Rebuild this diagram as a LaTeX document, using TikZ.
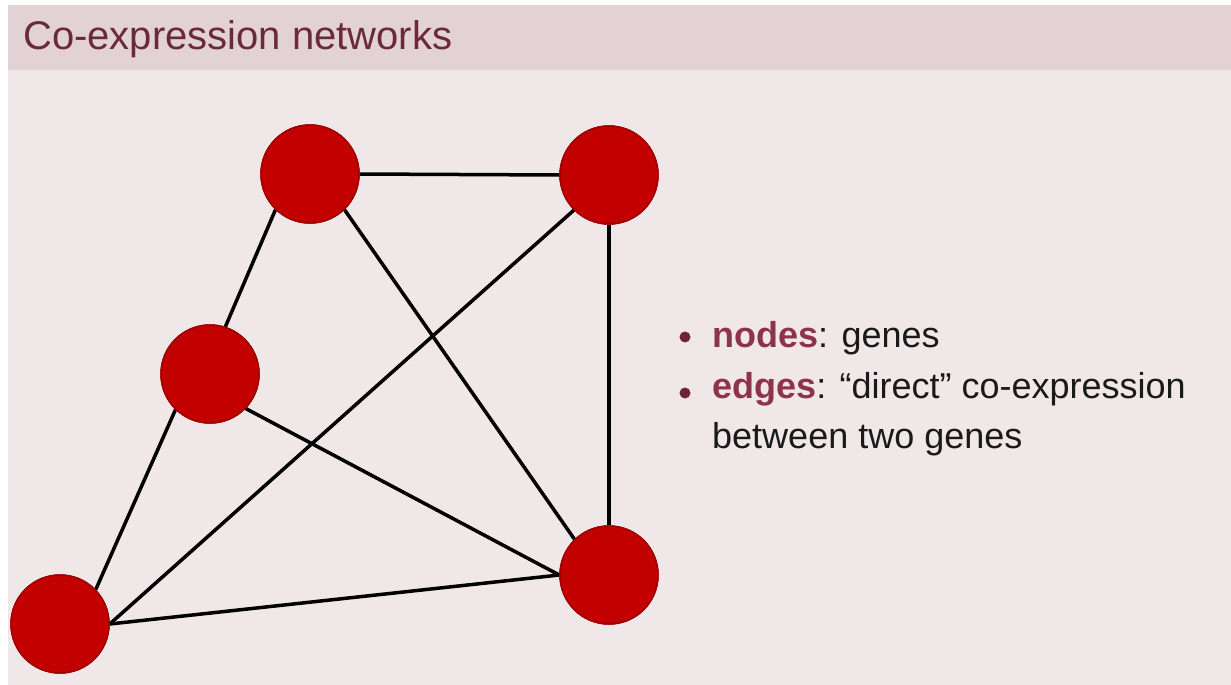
\documentclass[tikz,border=0pt]{standalone}
\usepackage{fontspec}
\setmainfont{Liberation Sans}
\definecolor{bgpink}{HTML}{F0E7E9}
\definecolor{barpink}{HTML}{E3D2D5}
\definecolor{titlecol}{HTML}{6B2A3A}
\definecolor{nodered}{HTML}{C20000}
\definecolor{noderim}{HTML}{A00000}
\definecolor{alertcol}{HTML}{8E3349}
\definecolor{bulletcol}{HTML}{6E2636}
\definecolor{textcol}{HTML}{1A1A1A}
\tikzset{
  gene/.style={circle, fill=nodered, draw=noderim, line width=1.5pt, minimum size=98pt, inner sep=0pt},
  edge/.style={draw=black, line width=3.5pt},
  bulletdot/.style={circle, fill=bulletcol, inner sep=0pt, minimum size=11pt},
  itemtext/.style={anchor=base west, inner sep=0pt, text=textcol, font=\fontsize{36}{43}\selectfont},
}
\begin{document}
\begin{tikzpicture}[x=1pt,y=-1pt]
\useasboundingbox (0,0) rectangle (1231,685);
\fill[white] (0,0) rectangle (1231,685);
\fill[bgpink] (8,5) rectangle (1231,685);
\fill[barpink] (8,5) rectangle (1231,70);
\node[anchor=base west, inner sep=0pt, text=titlecol, font=\fontsize{40}{46}\selectfont] (title) at (23,50) {Co-expression networks};

\node[gene] (A) at (310,174) {};
\node[gene] (B) at (609,175) {};
\node[gene] (C) at (210,374) {};
\node[gene] (D) at (609,575) {};
\node[gene] (E) at (60,624) {};

\draw[edge] (A.east) -- (B.west);
\draw[edge] (B.south) -- (D.north);
\draw[edge] (A.226) -- (C.72);
\draw[edge] (A.-46) -- (D.134);
\draw[edge] (B.225) -- (E.east);
\draw[edge] (C.-44) -- (D.west);
\draw[edge] (C.226) -- (E.44);
\draw[edge] (E.east) -- (D.west);

% nodes redrawn on top of the edges
\node[gene] at (A) {};
\node[gene] at (B) {};
\node[gene] at (C) {};
\node[gene] at (D) {};
\node[gene] at (E) {};

\node[bulletdot] (b1) at (685,337) {};
\node[bulletdot] (b2) at (685,393) {};
\node[itemtext] (t1) at (712,347) {\textcolor{alertcol}{\textbf{nodes}}: genes};
\node[itemtext] (t2) at (712,398) {\textcolor{alertcol}{\textbf{edges}}: “direct” co-expression};
\node[itemtext] (t3) at (712,448) {between two genes};
\end{tikzpicture}
\end{document}
